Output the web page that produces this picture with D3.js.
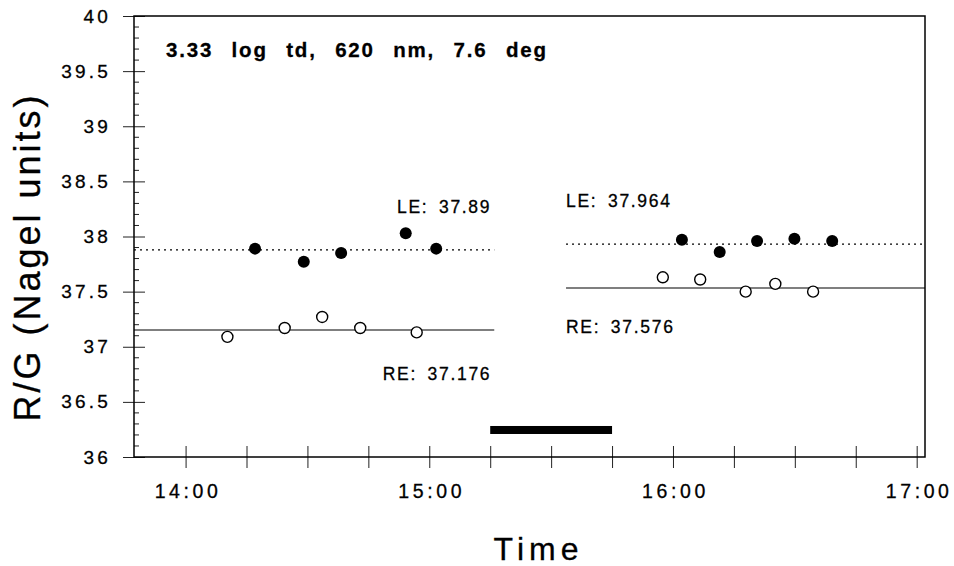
<!DOCTYPE html>
<html>
<head>
<meta charset="utf-8">
<script src="https://cdn.jsdelivr.net/npm/d3@7"></script>
<style>
  body { margin: 0; background: #fff; }
  text { font-family: "Liberation Sans", Arial, Helvetica, sans-serif; fill: #000; stroke: #000; stroke-width: 0.3px; }
</style>
</head>
<body>
<div id="chart"></div>
<script>
// Left eye (filled) and right eye (open) settings, before and after the bar
const leTimesBefore = ["14:17:06", "14:29:06", "14:38:18", "14:54:12", "15:01:42"];
const leValuesBefore = [37.89, 37.77, 37.85, 38.03, 37.89];
const reTimesBefore = ["14:10:18", "14:24:24", "14:33:38", "14:43:00", "14:56:54"];
const reValuesBefore = [37.09, 37.17, 37.27, 37.17, 37.13];

const leTimesAfter = ["16:02:12", "16:11:30", "16:20:42", "16:29:54", "16:39:12"];
const leValuesAfter = [37.97, 37.86, 37.96, 37.98, 37.96];
const reTimesAfter = ["15:57:30", "16:06:42", "16:17:54", "16:25:12", "16:34:30"];
const reValuesAfter = [37.63, 37.61, 37.50, 37.57, 37.50];

// Mean lines
const lineEyes = ["LE", "RE", "LE", "RE"];
const lineStarts = ["13:47:18", "13:47:18", "15:33:40", "15:33:40"];
const lineEnds = ["15:16:00", "15:16:00", "17:02:03", "17:02:03"];
const lineValues = [37.878, 37.152, 37.93, 37.533];
const lineLabels = ["LE: 37.89", "RE: 37.176", "LE: 37.964", "RE: 37.576"];

// Black bar (adaptation period)
const barStart = "15:15:00";
const barEnd = "15:45:00";
const barValue = 36.245;

const titleText = "3.33 log td, 620 nm, 7.6 deg";
const yTicksMajor = d3.range(36, 40.01, 0.5);
const yTicksMinor = d3.range(36, 40.01, 0.1).map(d => Math.round(d * 10) / 10);

const width = 954, height = 566;
const margin = { top: 16, right: 29, bottom: 109, left: 134 };
const parseTime = d3.timeParse("%H:%M:%S");

const svg = d3.select("#chart")
    .append("svg")
    .attr("width", width)
    .attr("height", height);

const x = d3.scaleTime()
    .domain([parseTime("13:47:18"), parseTime("17:02:03")])
    .range([margin.left, width - margin.right]);

const y = d3.scaleLinear()
    .domain([36, 40])
    .range([height - margin.bottom, margin.top]);

const xTicks = d3.timeMinute.every(15).range(parseTime("14:00:00"), parseTime("17:00:01"));

// x axis
const xAxis = svg.append("g")
    .attr("transform", `translate(0, ${y(36)})`)
    .call(d3.axisBottom(x)
        .tickValues(xTicks)
        .tickSize(11)
        .tickPadding(16)
        .tickFormat(d => d.getMinutes() === 0 ? d3.timeFormat("%H:%M")(d) : ""));
xAxis.select(".domain").remove();
xAxis.selectAll(".tick line").attr("y1", -11).attr("stroke", "#222").attr("stroke-width", 1);
xAxis.selectAll(".tick text")
    .style("font-size", "19.5px")
    .style("letter-spacing", "3.6px")
    .attr("dx", "2px");

// y axis
const yAxis = svg.append("g")
    .attr("transform", `translate(${x.range()[0]}, 0)`)
    .call(d3.axisLeft(y)
        .tickValues(yTicksMajor)
        .tickSize(11)
        .tickPadding(12)
        .tickFormat(d => d));
yAxis.select(".domain").remove();
yAxis.selectAll(".tick line").attr("x2", 11).attr("x1", -11).attr("stroke", "#222").attr("stroke-width", 1);
yAxis.selectAll(".tick text")
    .style("font-size", "19px")
    .style("letter-spacing", "3.2px");

yAxis.selectAll(".minor")
    .data(yTicksMinor.filter(d => Math.round(d * 10) % 5 !== 0))
    .enter()
    .append("line")
    .attr("class", "minor")
    .attr("x1", 0)
    .attr("x2", 5)
    .attr("y1", d => y(d))
    .attr("y2", d => y(d))
    .attr("stroke", "#222");

// frame
svg.append("rect")
    .attr("x", x.range()[0])
    .attr("y", y(40))
    .attr("width", x.range()[1] - x.range()[0])
    .attr("height", y(36) - y(40))
    .attr("fill", "none")
    .attr("stroke", "#000")
    .attr("stroke-width", 1.5);

// mean lines
lineValues.forEach(function (v, i) {
    svg.append("line")
        .attr("x1", x(parseTime(lineStarts[i])))
        .attr("x2", x(parseTime(lineEnds[i])))
        .attr("y1", y(v))
        .attr("y2", y(v))
        .attr("stroke", "#000")
        .attr("stroke-width", 1.2)
        .attr("stroke-dasharray", lineEyes[i] === "LE" ? "2,4" : null);

    const before = i < 2;
    svg.append("text")
        .attr("x", before ? x(parseTime(lineEnds[i])) - 3 : x(parseTime(lineStarts[i])))
        .attr("y", y(v) + (lineEyes[i] === "LE" ? -37 : (before ? 50 : 45)))
        .attr("text-anchor", before ? "end" : "start")
        .style("font-size", "17.5px")
        .style("letter-spacing", "1.7px")
        .style("word-spacing", "4px")
        .text(lineLabels[i]);
});

// black bar
svg.append("rect")
    .attr("x", x(parseTime(barStart)))
    .attr("y", y(barValue) - 4)
    .attr("width", x(parseTime(barEnd)) - x(parseTime(barStart)))
    .attr("height", 8)
    .attr("fill", "#000");

// points
function addPoints(times, values, filled) {
    svg.append("g")
        .selectAll("circle")
        .data(values)
        .enter()
        .append("circle")
        .attr("cx", (d, i) => x(parseTime(times[i])))
        .attr("cy", d => y(d))
        .attr("r", filled ? 6 : 5.5)
        .attr("fill", filled ? "#000" : "#fff")
        .attr("stroke", "#000")
        .attr("stroke-width", filled ? 0 : 1.4);
}
addPoints(reTimesBefore, reValuesBefore, false);
addPoints(leTimesBefore, leValuesBefore, true);
addPoints(reTimesAfter, reValuesAfter, false);
addPoints(leTimesAfter, leValuesAfter, true);

// title
svg.append("text")
    .attr("x", 166)
    .attr("y", 57)
    .style("font-size", "20.5px")
    .style("font-weight", "bold")
    .style("letter-spacing", "1.8px")
    .style("word-spacing", "11px")
    .text(titleText);

// axis titles
svg.append("text")
    .attr("x", (x.range()[0] + x.range()[1]) / 2 + 9)
    .attr("y", 560)
    .attr("text-anchor", "middle")
    .style("font-size", "32px")
    .style("letter-spacing", "5px")
    .text("Time");

svg.append("text")
    .attr("transform", "translate(40, 257) rotate(-90)")
    .attr("text-anchor", "middle")
    .style("font-size", "36px")
    .style("letter-spacing", "3px")
    .text("R/G (Nagel units)");
</script>
</body>
</html>
